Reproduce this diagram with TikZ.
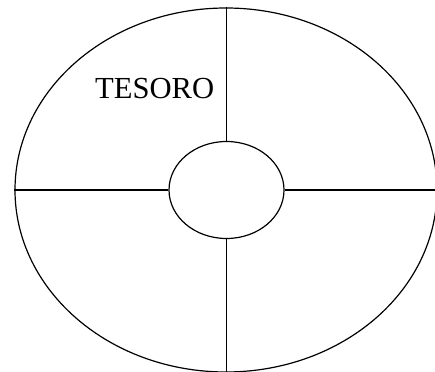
\documentclass[tikz,border=0pt]{standalone}
\usepackage{fontspec}
\setmainfont{Liberation Serif}
\usetikzlibrary{shapes.geometric}
\begin{document}
\begin{tikzpicture}[x=1pt,y=-1pt,
  ring/.style={draw,ellipse,inner sep=0pt,line width=1.2pt},
  spoke/.style={draw,line width=1.2pt}]
\useasboundingbox (0,0) rectangle (435,371);
\clip (0,0) rectangle (435,371);
\node[ring,minimum width=422pt,minimum height=364pt] (big) at (226,190) {};
\node[ring,minimum width=115pt,minimum height=97pt] (small) at (226.5,190) {};
\draw[spoke] (small.north) -- (small.north |- big.north);
\draw[spoke] (small.south) -- (small.south |- big.south);
\draw[spoke] (small.west) -- (big.west |- small.west);
\draw[spoke] (small.east) -- (big.east |- small.east);
\node[anchor=base west,inner sep=0pt,font=\fontsize{30.6}{36}\selectfont] (t) at (95,99) {TESORO};
\end{tikzpicture}
\end{document}
